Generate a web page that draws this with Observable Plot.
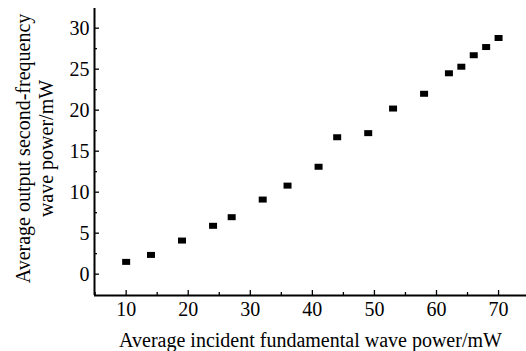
<!DOCTYPE html>
<html>
<head>
<meta charset="utf-8">
<script src="https://cdn.jsdelivr.net/npm/d3@7"></script>
<script src="https://cdn.jsdelivr.net/npm/@observablehq/plot@0.6"></script>
<style>
  html, body { margin: 0; padding: 0; background: #fff; }
  svg { display: block; }
  svg, svg text { font-family: 'Liberation Serif', 'Times New Roman', serif !important; }
</style>
</head>
<body>
<div id="chart"></div>
<script>
// Data
const incidentPower = [10, 14, 19, 24, 27, 32, 36, 41, 44, 49, 53, 58, 62, 64, 66, 68, 70];
const outputPower   = [1.5, 2.35, 4.1, 5.9, 6.95, 9.1, 10.8, 13.1, 16.7, 17.2, 20.2, 22.0, 24.5, 25.3, 26.7, 27.7, 28.8];

const xMajorTicks = [10, 20, 30, 40, 50, 60, 70];
const xMinorTicks = [5, 15, 25, 35, 45, 55, 65];
const yMajorTicks = [0, 5, 10, 15, 20, 25, 30];
const yMinorTicks = [2.5, 7.5, 12.5, 17.5, 22.5, 27.5];
const xDomain = [4.9, 74.5];
const yDomain = [-2.6, 32.4];

const xTitle = "Average incident fundamental wave power/mW";
const yTitle = "Average output second-frequency\nwave power/mW";

const data = incidentPower.map((x, i) => ({x, y: outputPower[i]}));

const rectSymbol = {
  draw(context) {
    context.rect(-4, -3, 8, 6);
  }
};

const font = "'Liberation Serif', 'Times New Roman', serif";

const chart = Plot.plot({
  width: 526,
  height: 351,
  marginLeft: 94,
  marginRight: 0,
  marginTop: 8,
  marginBottom: 56,
  style: {fontFamily: font, fontSize: "20px", color: "#000", background: "#fff"},
  x: {type: "linear", domain: xDomain},
  y: {type: "linear", domain: yDomain},
  marks: [
    // tick labels
    Plot.axisX({ticks: xMajorTicks, tickSize: 0, tickPadding: 6, fontSize: 20, fontVariant: "normal", label: null}),
    Plot.axisY({ticks: yMajorTicks, tickSize: 0, tickPadding: 5, fontSize: 20, fontVariant: "normal", label: null}),
    // inward ticks
    Plot.axisX({ticks: xMajorTicks, tickSize: -5, tickFormat: () => "", label: null, strokeWidth: 1.3}),
    Plot.axisX({ticks: xMinorTicks, tickSize: -3, tickFormat: () => "", label: null, strokeWidth: 1.3}),
    Plot.axisY({ticks: yMajorTicks, tickSize: -5, tickFormat: () => "", label: null, strokeWidth: 1.3}),
    Plot.axisY({ticks: yMinorTicks, tickSize: -3, tickFormat: () => "", label: null, strokeWidth: 1.3}),
    // axis lines
    Plot.ruleX([xDomain[0]], {stroke: "#000", strokeWidth: 2}),
    Plot.ruleY([yDomain[0]], {stroke: "#000", strokeWidth: 2}),
    // data
    Plot.dot(data, {x: "x", y: "y", symbol: rectSymbol, fill: "#000", stroke: "none"}),
    // titles
    Plot.text([xTitle], {frameAnchor: "bottom", dy: 45, fontSize: 20, fill: "#000", lineAnchor: "middle"}),
    Plot.text([yTitle], {frameAnchor: "left", textAnchor: "middle", dx: -60.5, dy: -3.5, rotate: -90, fontSize: 20, lineHeight: 1.15, fill: "#000", lineAnchor: "middle"})
  ]
});

document.getElementById("chart").appendChild(chart);
</script>
</body>
</html>
